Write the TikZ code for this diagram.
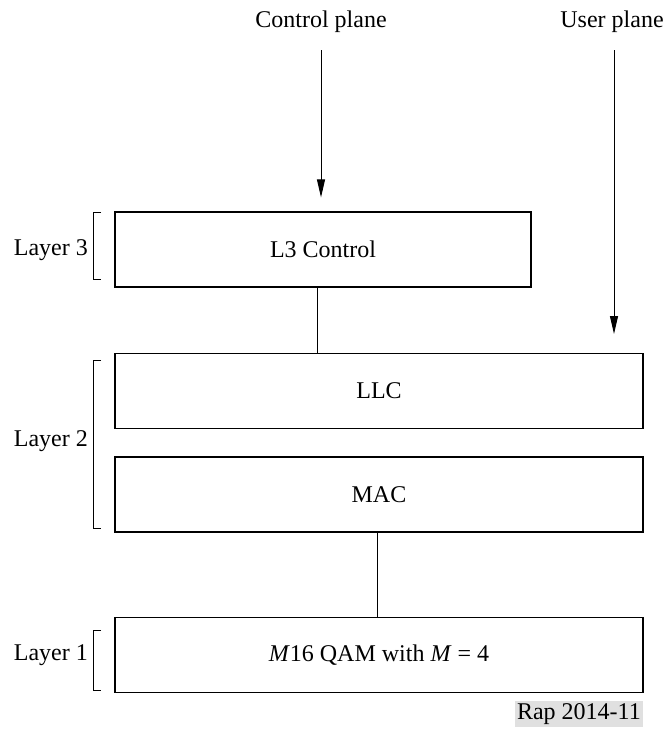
\documentclass[tikz,border=0pt]{standalone}
\usepackage{fontspec}
\setmainfont{Liberation Serif}
\usetikzlibrary{arrows.meta}
\begin{document}
\begin{tikzpicture}[x=1pt,y=-1pt,
  every node/.style={font=\fontsize{24}{28}\selectfont},
  box/.style={draw, line width=1.2pt, minimum width=#1, minimum height=75pt, inner sep=0pt},
  conn/.style={line width=1pt},
  arr/.style={line width=1pt, -{Triangle[length=18pt,width=8pt]}},
  brk/.style={line width=1pt}]
\useasboundingbox (0,0) rectangle (665,742);
% titles
\node (cp) at (321,22) {Control plane};
\node (up) at (612,22) {User plane};
% boxes
\node[box=416pt] (l3) at (323,249.5) {L3 Control};
\node[box=528pt] (llc) at (379,391) {LLC};
\node[box=528pt] (mac) at (379,494.5) {MAC};
\node[box=528pt] (l1) at (379,655) {\textit{M}16 QAM with \textit{M} = 4};
% arrows
\coordinate (cpa) at (321,50);
\coordinate (upa) at (614,50);
\coordinate (upe) at (614,334);
\draw[arr, shorten >=14pt] (cpa) -- (cpa |- l3.north);
\draw[arr] (upa) -- (upe);
% connectors
\path (l3.south) ++(-6,0) coordinate (a1);
\draw[conn] (a1) -- (a1 |- llc.north);
\path (mac.south) ++(-2,0) coordinate (b1);
\draw[conn] (b1) -- (b1 |- l1.north);
% brackets and layer labels
\draw[brk] (101,212) -- (93,212) -- (93,279) -- (101,279);
\node[anchor=east, inner sep=0pt] (lay3) at (88,250) {Layer 3};
\draw[brk] (101,360) -- (93,360) -- (93,528) -- (101,528);
\node[anchor=east, inner sep=0pt] (lay2) at (88,441) {Layer 2};
\draw[brk] (101,630) -- (93,630) -- (93,690) -- (101,690);
\node[anchor=east, inner sep=0pt] (lay1) at (88,655) {Layer 1};
% reference label
\node[fill=black!12, anchor=east, inner sep=2pt] (rap) at (643,714) {Rap 2014-11};
\end{tikzpicture}
\end{document}
